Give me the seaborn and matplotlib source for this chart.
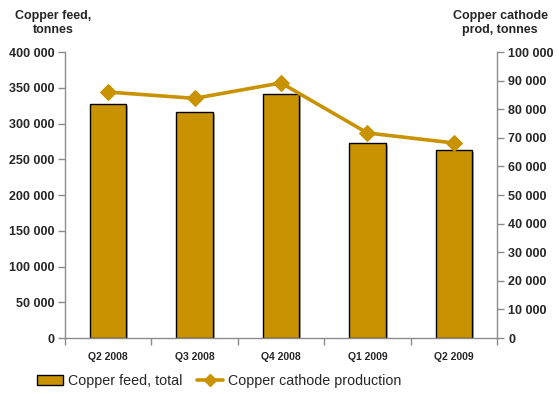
import matplotlib
matplotlib.use("Agg")
import matplotlib.pyplot as plt
import matplotlib.patheffects as pe
from matplotlib.lines import Line2D
from matplotlib.patches import Patch
from matplotlib.ticker import FuncFormatter, FixedLocator
import numpy as np
import pandas as pd
import seaborn as sns

quarters = ["Q2 2008", "Q3 2008", "Q4 2008", "Q1 2009", "Q2 2009"]
copper_feed = [327000, 316000, 341000, 273000, 263000]
cathode_prod = [86000, 83800, 89200, 71700, 68200]

gold = "#C89200"
grey = "#8C8C8C"

sns.set_style("white")
plt.rcParams["font.family"] = ["Liberation Sans", "DejaVu Sans"]

df = pd.DataFrame({"quarter": quarters, "feed": copper_feed, "cathode": cathode_prod})

fig = plt.figure(figsize=(5.59, 3.94), dpi=100)
ax = fig.add_axes([0.1163, 0.142, 0.7727, 0.726])

sns.barplot(data=df, x="quarter", y="feed", order=quarters, color=gold,
            saturation=1, width=0.42, edgecolor="black", linewidth=1.0, ax=ax)
for p in ax.patches:
    p.set_path_effects([pe.SimplePatchShadow(offset=(1.5, -1.5), shadow_rgbFace="#777777", alpha=0.6),
                        pe.Normal()])

ax2 = ax.twinx()
sns.lineplot(x=np.arange(len(quarters)), y=df["cathode"], color=gold, linewidth=2.6,
             marker="D", markersize=8, markeredgecolor=gold, ax=ax2)

fmt = FuncFormatter(lambda v, _: f"{int(v):,}".replace(",", " "))
ax.set_ylim(0, 400000)
ax.set_yticks(np.arange(0, 400001, 50000))
ax.yaxis.set_major_formatter(fmt)
ax2.set_ylim(0, 100000)
ax2.set_yticks(np.arange(0, 100001, 10000))
ax2.yaxis.set_major_formatter(fmt)
ax.set_xlim(-0.5, len(quarters) - 0.5)

for a in (ax, ax2):
    a.set_xlabel("")
    a.set_ylabel("")
    a.spines["top"].set_visible(False)
    for s in ("left", "right", "bottom"):
        a.spines[s].set_color(grey)
        a.spines[s].set_linewidth(1.0)

ax.spines["right"].set_visible(False)
ax2.spines["left"].set_visible(False)
ax2.spines["bottom"].set_visible(False)

ax.tick_params(axis="y", direction="out", length=5, width=1, color=grey, left=True,
               labelsize=9, pad=2.5)
ax2.tick_params(axis="y", direction="out", length=5, width=1, color=grey, right=True,
                labelsize=9, pad=3)
for lbl in ax.get_yticklabels() + ax2.get_yticklabels():
    lbl.set_fontweight("bold")

ax.tick_params(axis="x", which="major", length=0, labelsize=7.5, pad=10)
for lbl in ax.get_xticklabels():
    lbl.set_fontweight("bold")
ax.xaxis.set_minor_locator(FixedLocator(np.arange(-0.5, len(quarters), 1.0)))
ax.tick_params(axis="x", which="minor", direction="out", length=5, width=1, color=grey, bottom=True)

fig.text(0.095, 0.975, "Copper feed,\ntonnes", ha="center", va="top", multialignment="center",
         fontsize=9, fontweight="bold", linespacing=1.25)
fig.text(0.895, 0.975, "Copper cathode\nprod, tonnes", ha="center", va="top", multialignment="center",
         fontsize=9, fontweight="bold", linespacing=1.25)

handles = [Patch(facecolor=gold, edgecolor="black", linewidth=1.0),
           Line2D([0], [0], color=gold, linewidth=2.6, marker="D", markersize=6)]
fig.legend(handles, ["Copper feed, total", "Copper cathode production"],
           loc="center left", bbox_to_anchor=(0.066, 13 / 394), ncol=2, frameon=False,
           borderaxespad=0, borderpad=0,
           fontsize=10.3, handlelength=1.8, handletextpad=0.35, columnspacing=1.05)

fig.savefig("out.png", dpi=100)
